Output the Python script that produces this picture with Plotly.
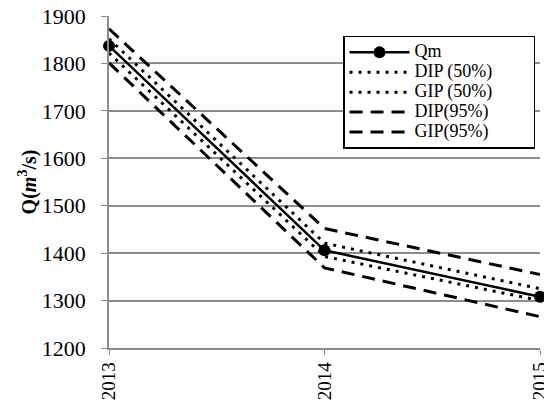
import plotly.graph_objects as go

years = [2013, 2014, 2015]
qm = [1837, 1406, 1308]
dip50 = [1822, 1393, 1300]
gip50 = [1852, 1421, 1325]
dip95 = [1801, 1369, 1266]
gip95 = [1873, 1452, 1355]
series_names = ["Qm", "DIP (50%)", "GIP (50%)", "DIP(95%)", "GIP(95%)"]

y_ticks = [1200, 1300, 1400, 1500, 1600, 1700, 1800, 1900]

FONT = "Liberation Serif"


def lname(s):
    return '<span style="font-size:18px">' + s + '</span>' + '&nbsp;' * 11


fig = go.Figure()
fig.add_trace(go.Scatter(x=years, y=qm, name=lname(series_names[0]), mode="lines+markers",
                         line=dict(color="black", width=2.5),
                         marker=dict(size=12, color="black"), cliponaxis=False))
fig.add_trace(go.Scatter(x=years, y=dip50, name=lname(series_names[1]), mode="lines",
                         line=dict(color="black", width=3, dash="3px,6px")))
fig.add_trace(go.Scatter(x=years, y=gip50, name=lname(series_names[2]), mode="lines",
                         line=dict(color="black", width=3, dash="3px,6px")))
fig.add_trace(go.Scatter(x=years, y=dip95, name=lname(series_names[3]), mode="lines",
                         line=dict(color="black", width=3, dash="13px,8px")))
fig.add_trace(go.Scatter(x=years, y=gip95, name=lname(series_names[4]), mode="lines",
                         line=dict(color="black", width=3, dash="13px,8px")))

fig.update_layout(
    width=544, height=406,
    margin=dict(l=109, r=4, t=16, b=58),
    paper_bgcolor="white", plot_bgcolor="white",
    font=dict(family=FONT, color="black"),
    showlegend=True,
    legend=dict(x=0.543, y=0.94, xanchor="left", yanchor="top",
                bgcolor="white", bordercolor="black", borderwidth=1.5,
                font=dict(family=FONT, size=13, color="black"),
                itemwidth=60, tracegroupgap=0),
    xaxis=dict(range=[2013, 2015], tickvals=years, ticktext=[str(y) for y in years],
               tickangle=-90, showgrid=False, showline=True, linecolor="#8c8c8c",
               linewidth=1.5, ticks="outside", ticklen=5, tickcolor="#8c8c8c",
               ticklabeloverflow="allow",
               tickfont=dict(family=FONT, size=19, color="black"), automargin=False,
               zeroline=False),
    yaxis=dict(range=[1200, 1900], tickvals=y_ticks, showgrid=True, gridcolor="#8c8c8c",
               gridwidth=1.5, showline=True, linecolor="#8c8c8c", linewidth=1.5,
               ticks="outside", ticklen=6, tickcolor="#8c8c8c", ticklabelstandoff=11,
               tickfont=dict(family=FONT, size=22, color="black"), automargin=False,
               zeroline=False,
               title=dict(text="<b>Q(<i>m</i><sup>3</sup>/s)</b>", standoff=0,
                          font=dict(family=FONT, size=20, color="black"))),
)

fig.write_html("out.html", config={"displayModeBar": False},
               post_script="document.body.style.margin='0';")
